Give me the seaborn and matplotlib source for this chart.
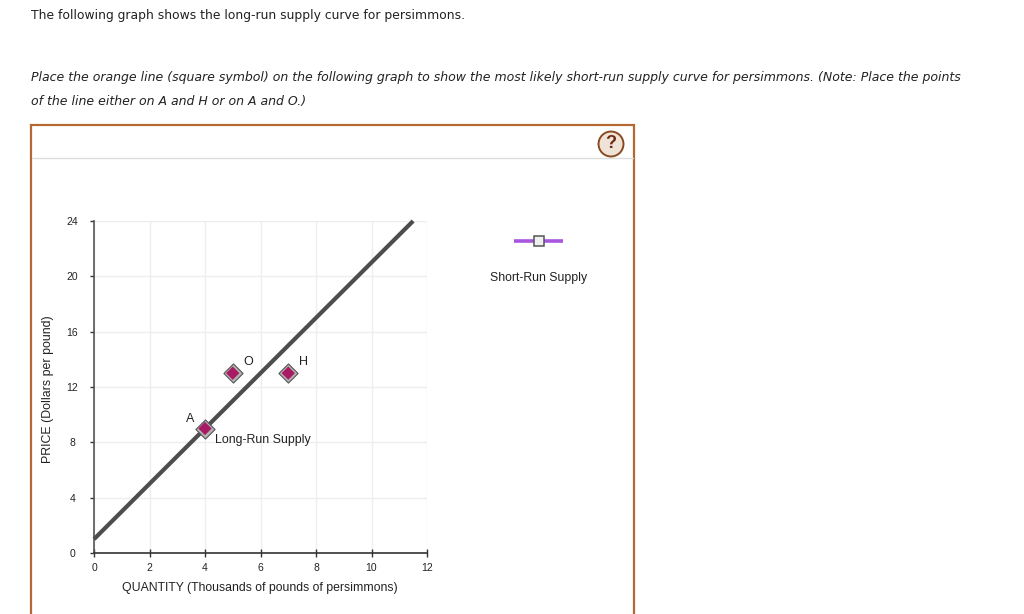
import matplotlib
matplotlib.use("Agg")
import matplotlib.pyplot as plt
from matplotlib.lines import Line2D
from matplotlib.patches import Rectangle
import pandas as pd
import seaborn as sns

# values
supply_qty = [0, 11.5]
supply_price = [1, 24]
point_names = ["A", "O", "H"]
point_qty = [4, 5, 7]
point_price = [9, 13, 13]
x_ticks = [0, 2, 4, 6, 8, 10, 12]
y_ticks = [0, 4, 8, 12, 16, 20, 24]

W, H = 1024, 614
ARIAL = "Liberation Sans"
VERDANA = "DejaVu Sans"


def fx(px):
    return px / W


def fy(py):
    return 1 - py / H


sns.set_theme(style="white")
fig = plt.figure(figsize=(10.24, 6.14), dpi=100, facecolor="white")

# question text above the panel
fig.text(fx(31), fy(16), "The following graph shows the long-run supply curve for persimmons.",
         family=VERDANA, fontsize=8.9, color="#222222", va="center")
fig.text(fx(31), fy(77),
         "Place the orange line (square symbol) on the following graph to show the most likely "
         "short-run supply curve for persimmons. (Note: Place the points",
         family=VERDANA, style="italic", fontsize=9.02, color="#222222", va="center")
fig.text(fx(31), fy(102), "of the line either on A and H or on A and O.)",
         family=VERDANA, style="italic", fontsize=9.02, color="#222222", va="center")

# panel frame, runs off the bottom of the image
fig.add_artist(Rectangle((fx(31), fy(640)), (634 - 31) / W, (640 - 125) / H, transform=fig.transFigure,
                         fill=False, edgecolor="#b5682f", linewidth=1.6))
fig.add_artist(Line2D([fx(32), fx(633)], [fy(158), fy(158)], color="#dddddd", linewidth=1))

# help button
fig.text(fx(611), fy(144), "?", family=ARIAL, fontsize=13, fontweight="bold", color="#6e2a12",
         ha="center", va="center", zorder=5,
         bbox=dict(boxstyle="circle,pad=0.22", facecolor="#efe3d8", edgecolor="#8a4a22", linewidth=1.4))

ax = fig.add_axes([fx(94), fy(553), (427 - 94) / W, (553 - 221) / H])
ax.patch.set_alpha(0)

supply = pd.DataFrame({"qty": supply_qty, "price": supply_price})
points = pd.DataFrame({"name": point_names, "qty": point_qty, "price": point_price})

sns.lineplot(data=supply, x="qty", y="price", ax=ax, color="#4d4d4d", linewidth=3.0,
             solid_capstyle="butt", clip_on=False, zorder=3)
# grey outer diamond, then the magenta one inside it
sns.scatterplot(data=points, x="qty", y="price", ax=ax, marker="D", s=95, color="#b4b4b4",
                edgecolor="#555555", linewidth=0.8, clip_on=False, zorder=4)
sns.scatterplot(data=points, x="qty", y="price", ax=ax, marker="D", s=46, color="#a81a63",
                edgecolor="none", linewidth=0, clip_on=False, zorder=5)

ax.set_xlim(0, 12)
ax.set_ylim(0, 24)
ax.set_xticks(x_ticks)
ax.set_yticks(y_ticks)
ax.grid(True, color="#eeeeee", linewidth=1)
ax.set_axisbelow(True)

for side in ["top", "right"]:
    ax.spines[side].set_visible(False)
ax.spines["left"].set_color("#555555")
ax.spines["left"].set_linewidth(1.2)
ax.spines["bottom"].set_color("#333333")
ax.spines["bottom"].set_linewidth(1.2)

ax.tick_params(axis="y", which="major", left=True, length=3, width=1, color="#333333",
               labelsize=7.5, pad=12.5, labelcolor="#222222", direction="out")
ax.tick_params(axis="x", which="major", bottom=True, length=6, width=1, color="#333333",
               labelsize=7.5, pad=4, labelcolor="#222222", direction="inout")
for lab in ax.get_xticklabels() + ax.get_yticklabels():
    lab.set_family(ARIAL)
for lab in ax.get_yticklabels():
    lab.set_ha("center")

ax.set_xlabel("")
ax.set_ylabel("")
fig.text(fx(260), fy(588), "QUANTITY (Thousands of pounds of persimmons)", family=ARIAL,
         fontsize=8.85, color="#222222", ha="center", va="center")
fig.text(fx(48.5), fy(389), "PRICE (Dollars per pound)", family=ARIAL, fontsize=8.9, color="#222222",
         rotation=90, ha="center", va="center")

# point and curve labels
label_off = {"A": (-11, 7.2), "O": (11, 8), "H": (11, 8)}
for name, q, p in zip(point_names, point_qty, point_price):
    ax.annotate(name, (q, p), xytext=label_off[name], textcoords="offset points", family=ARIAL,
                fontsize=9, color="#222222", ha="center", va="center", zorder=6)
ax.annotate("Long-Run Supply", (point_qty[0], point_price[0]), xytext=(7.2, -3.9), textcoords="offset points",
            family=ARIAL, fontsize=8.9, color="#222222", ha="left", va="top", zorder=6)

# palette entry on the right of the graph
fig.add_artist(Line2D([fx(514), fx(563)], [fy(241), fy(241)], color="#a855e0", linewidth=2.6,
                      solid_capstyle="butt"))
fig.add_artist(Line2D([fx(538.5)], [fy(240.5)], marker="s", markersize=7, markerfacecolor="#f0f0f0",
                      markeredgecolor="#555555", markeredgewidth=1.1, linestyle="none"))
fig.text(fx(539), fy(278.5), "Short-Run Supply", family=ARIAL, fontsize=8.85, color="#222222",
         ha="center", va="center")

fig.savefig("out.png", dpi=100, facecolor="white")
